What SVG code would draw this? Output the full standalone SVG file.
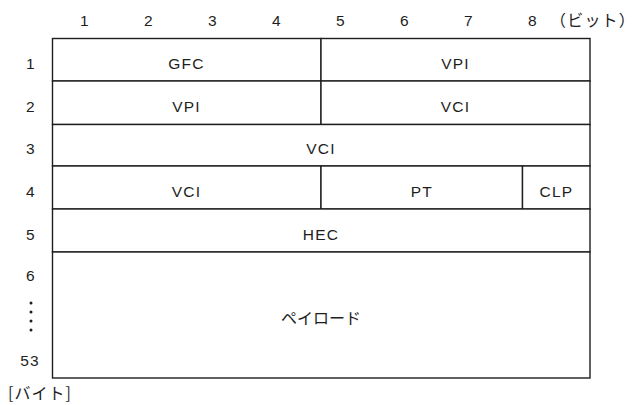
<svg xmlns="http://www.w3.org/2000/svg" width="642" height="405" viewBox="0 0 642 405">
<style>
.cell{fill:#fff;stroke:#1e1e1e;stroke-width:1.4}
.t{font-family:"Liberation Sans",Arial,"Noto Sans CJK JP",sans-serif;font-size:15.5px;fill:#1e1e1e;text-anchor:middle;letter-spacing:1.2px}
.j{font-family:"Noto Sans CJK JP","Liberation Sans",sans-serif;font-size:16px;fill:#1e1e1e}
</style>
<rect width="642" height="405" fill="#fff"/>
<g id="bit-header">
<text class="t" x="85" y="26">1</text>
<text class="t" x="149" y="26">2</text>
<text class="t" x="213" y="26">3</text>
<text class="t" x="277" y="26">4</text>
<text class="t" x="341" y="26">5</text>
<text class="t" x="405" y="26">6</text>
<text class="t" x="469" y="26">7</text>
<text class="t" x="533" y="26">8</text>
<text class="j" x="550" y="26" letter-spacing="1.2">（ビット）</text>
</g>
<g id="byte-labels">
<text class="t" x="31" y="69">1</text>
<text class="t" x="31" y="112">2</text>
<text class="t" x="31" y="154">3</text>
<text class="t" x="31" y="196.5">4</text>
<text class="t" x="31" y="239.5">5</text>
<text class="t" x="31" y="281">6</text>
<circle cx="31" cy="303" r="1.5" fill="#1e1e1e"/>
<circle cx="31" cy="312" r="1.5" fill="#1e1e1e"/>
<circle cx="31" cy="321" r="1.5" fill="#1e1e1e"/>
<circle cx="31" cy="330" r="1.5" fill="#1e1e1e"/>
<text class="t" x="30" y="366" letter-spacing="3">53</text>
<text class="j" x="8" y="399" letter-spacing="1">[バイト]</text>
</g>
<g id="gfc"><rect class="cell" x="52.5" y="38.5" width="268.5" height="42.5"/><text class="t" x="186.5" y="69">GFC</text></g>
<g id="vpi1"><rect class="cell" x="321" y="38.5" width="269" height="42.5"/><text class="t" x="455.5" y="69">VPI</text></g>
<g id="vpi2"><rect class="cell" x="52.5" y="81" width="268.5" height="43.5"/><text class="t" x="186.5" y="112">VPI</text></g>
<g id="vci1"><rect class="cell" x="321" y="81" width="269" height="43.5"/><text class="t" x="455.5" y="112">VCI</text></g>
<g id="vci2"><rect class="cell" x="52.5" y="124.5" width="537.5" height="41.5"/><text class="t" x="321" y="154">VCI</text></g>
<g id="vci3"><rect class="cell" x="52.5" y="166" width="268.5" height="43"/><text class="t" x="186.5" y="196.5">VCI</text></g>
<g id="pt"><rect class="cell" x="321" y="166" width="201.5" height="43"/><text class="t" x="421.75" y="196.5">PT</text></g>
<g id="clp"><rect class="cell" x="522.5" y="166" width="67.5" height="43"/><text class="t" x="556.5" y="196.5">CLP</text></g>
<g id="hec"><rect class="cell" x="52.5" y="209" width="537.5" height="43"/><text class="t" x="321" y="239.5">HEC</text></g>
<g id="payload"><rect class="cell" x="52.5" y="252" width="537.5" height="126"/><text class="j" x="321" y="324" text-anchor="middle">ペイロード</text></g>
<g id="connectors"/>
</svg>
